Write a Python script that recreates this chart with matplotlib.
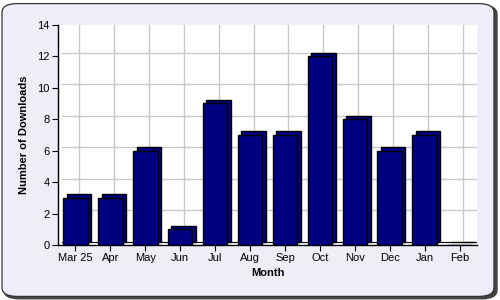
import matplotlib.pyplot as plt
from matplotlib.patches import FancyBboxPatch
from matplotlib import transforms

months = ["Mar 25", "Apr", "May", "Jun", "Jul", "Aug", "Sep", "Oct", "Nov", "Dec", "Jan", "Feb"]
downloads = [3, 3, 6, 1, 9, 7, 7, 12, 8, 6, 7, 0]
yticks = [0, 2, 4, 6, 8, 10, 12, 14]

plt.rcParams['font.family'] = ['Liberation Sans', 'DejaVu Sans']

fig = plt.figure(figsize=(5, 3), dpi=100)
fig.patch.set_facecolor('white')

# rounded lavender panel with a dark shadow at bottom right
shadow = FancyBboxPatch((0.008, 0.004), 0.986, 0.978, boxstyle="round,pad=0,rounding_size=0.03",
                        transform=fig.transFigure, facecolor='#444444', edgecolor='#444444',
                        linewidth=1, zorder=-6)
fig.add_artist(shadow)
panel = FancyBboxPatch((0.004, 0.012), 0.984, 0.976, boxstyle="round,pad=0,rounding_size=0.03",
                       transform=fig.transFigure, facecolor='#eeeefb', edgecolor='#333333',
                       linewidth=0.9, zorder=-5)
fig.add_artist(panel)

ax = fig.add_axes([0.116, 0.183, 0.838, 0.735])
ax.set_zorder(1)
ax.set_facecolor('white')

x = list(range(len(months)))
depth = transforms.offset_copy(ax.transData, fig=fig, x=3.5, y=3.5, units='dots')

# back wall grid, shifted for the 3d look
for y in yticks[1:]:
    ax.plot([-0.5, 11.5], [y, y], color='#c8c8c8', lw=1, transform=depth, zorder=0.5)
for xi in x:
    ax.plot([xi, xi], [0, 14], color='#c8c8c8', lw=1, transform=depth, zorder=0.5)

# floor edge
ax.plot([-0.5, 11.5], [0, 0], color='black', lw=0.8, transform=depth, zorder=1)

# bar depth then front face
ax.bar(x, downloads, width=0.7, color='#000080', edgecolor='black', linewidth=1,
       transform=depth, zorder=2)
ax.bar(x, downloads, width=0.7, color='#000080', edgecolor='black', linewidth=1, zorder=3)

ax.set_xlim(-0.5, 11.5)
ax.set_ylim(0, 14)
ax.set_xticks(x)
ax.set_xticklabels(months, fontsize=8)
ax.set_yticks(yticks)
ax.set_yticklabels([str(v) for v in yticks], fontsize=8)
ax.tick_params(length=4, width=0.8, colors='black', pad=2)

for side in ['top', 'right']:
    ax.spines[side].set_visible(False)
ax.spines['left'].set_linewidth(1)
ax.spines['bottom'].set_linewidth(1)

ax.set_xlabel("Month", fontsize=8, fontweight='bold', labelpad=3)
ax.set_ylabel("Number of Downloads", fontsize=8, fontweight='bold', labelpad=6)

plt.savefig("out.png", dpi=100, facecolor=fig.get_facecolor())
